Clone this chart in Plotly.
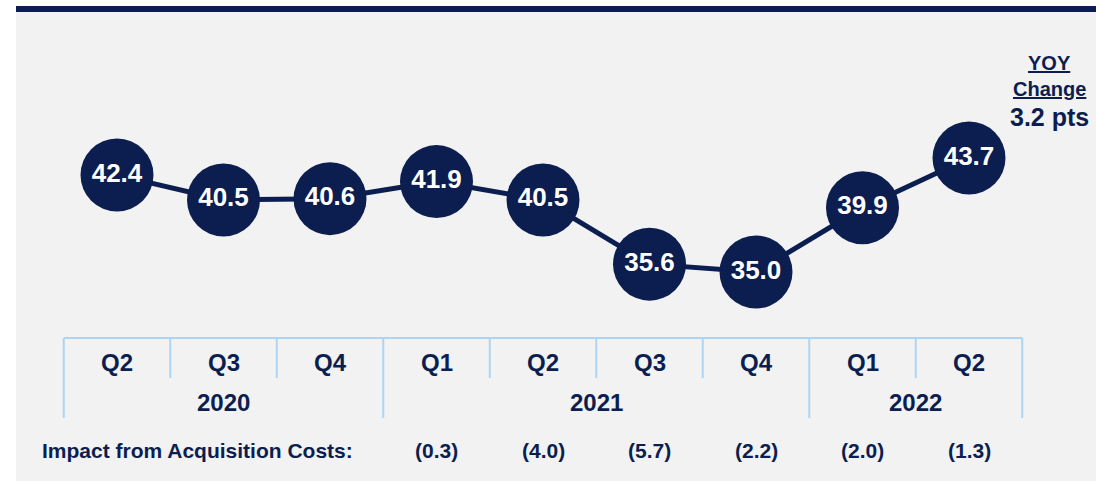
import plotly.graph_objects as go

quarters = ["Q2", "Q3", "Q4", "Q1", "Q2", "Q3", "Q4", "Q1", "Q2"]
years = ["2020", "2020", "2020", "2021", "2021", "2021", "2021", "2022", "2022"]
values = [42.4, 40.5, 40.6, 41.9, 40.5, 35.6, 35.0, 39.9, 43.7]
impact_labels = ["", "", "", "(0.3)", "(4.0)", "(5.7)", "(2.2)", "(2.0)", "(1.3)"]
year_names = ["2020", "2021", "2022"]
yoy_change = "3.2 pts"

NAVY = "#0b1e4f"
GRID = "#abd5f7"
BG = "#f2f2f2"
FONT = "Liberation Sans"

W, H = 1096, 481
x = list(range(len(values)))

def py(pix):
    return 1 - pix / H

fig = go.Figure()
fig.add_trace(go.Scatter(
    x=x, y=values, mode="lines+markers+text",
    line=dict(color=NAVY, width=5),
    marker=dict(size=73, color=NAVY, line=dict(width=0)),
    text=[f"{v:.1f}" for v in values],
    textposition="middle center",
    textfont=dict(family=FONT, size=26, color="white", weight="bold"),
    hoverinfo="skip", cliponaxis=False,
))

shapes = []
shapes.append(dict(type="rect", xref="paper", yref="paper", x0=16 / W, x1=1, y0=0, y1=py(12),
                   fillcolor=BG, line=dict(width=0), layer="below"))
shapes.append(dict(type="rect", xref="paper", yref="paper", x0=16 / W, x1=1, y0=py(12), y1=py(6),
                   fillcolor=NAVY, line=dict(width=0), layer="below"))

top, mid, bot = py(338), py(378), py(418)
n = len(values)
shapes.append(dict(type="line", xref="x", yref="paper", x0=-0.5, x1=n - 0.5, y0=top, y1=top,
                   line=dict(color=GRID, width=2)))
for i in range(n + 1):
    b = i - 0.5
    full = i == 0 or i == n or years[i] != years[i - 1]
    shapes.append(dict(type="line", xref="x", yref="paper", x0=b, x1=b, y0=top,
                       y1=bot if full else mid, line=dict(color=GRID, width=2)))

annotations = []
txt = dict(family=FONT, color=NAVY, weight="bold")
for i, q in enumerate(quarters):
    annotations.append(dict(x=i, y=py(362), xref="x", yref="paper", text=q, showarrow=False,
                            font=dict(size=24, **txt), xanchor="center", yanchor="middle"))
for yname in year_names:
    idx = [i for i, yy in enumerate(years) if yy == yname]
    annotations.append(dict(x=(idx[0] + idx[-1]) / 2, y=py(402), xref="x", yref="paper", text=yname,
                            showarrow=False, font=dict(size=24, **txt), xanchor="center", yanchor="middle"))
for i, lab in enumerate(impact_labels):
    if lab:
        annotations.append(dict(x=i, y=py(450), xref="x", yref="paper", text=lab, showarrow=False,
                                font=dict(size=21, **txt), xanchor="center", yanchor="middle"))
annotations.append(dict(x=40 / W, y=py(450), xref="paper", yref="paper", text="Impact from Acquisition Costs:",
                        showarrow=False, font=dict(size=21, **txt), xanchor="left", yanchor="middle"))
annotations.append(dict(x=1049 / W, y=py(63), xref="paper", yref="paper", text="<u>YOY</u>",
                        showarrow=False, font=dict(size=20, **txt), xanchor="center", yanchor="middle"))
annotations.append(dict(x=1049 / W, y=py(89), xref="paper", yref="paper", text="<u>Change</u>",
                        showarrow=False, font=dict(size=20, **txt), xanchor="center", yanchor="middle"))
annotations.append(dict(x=1049 / W, y=py(117), xref="paper", yref="paper", text=yoy_change,
                        showarrow=False, font=dict(size=25, **txt), xanchor="center", yanchor="middle"))

x0 = -117 / 106.5
y_top = 35 + 272 / 13.1
fig.update_layout(
    width=W, height=H, margin=dict(l=0, r=0, t=0, b=0),
    paper_bgcolor="white", plot_bgcolor="rgba(0,0,0,0)",
    showlegend=False, shapes=shapes, annotations=annotations,
    xaxis=dict(range=[x0, x0 + W / 106.5], visible=False, fixedrange=True),
    yaxis=dict(range=[y_top - H / 13.1, y_top], visible=False, fixedrange=True),
)
fig.write_html("out.html", config={"displayModeBar": False},
               post_script="document.body.style.margin='0';document.body.style.overflow='hidden';")
